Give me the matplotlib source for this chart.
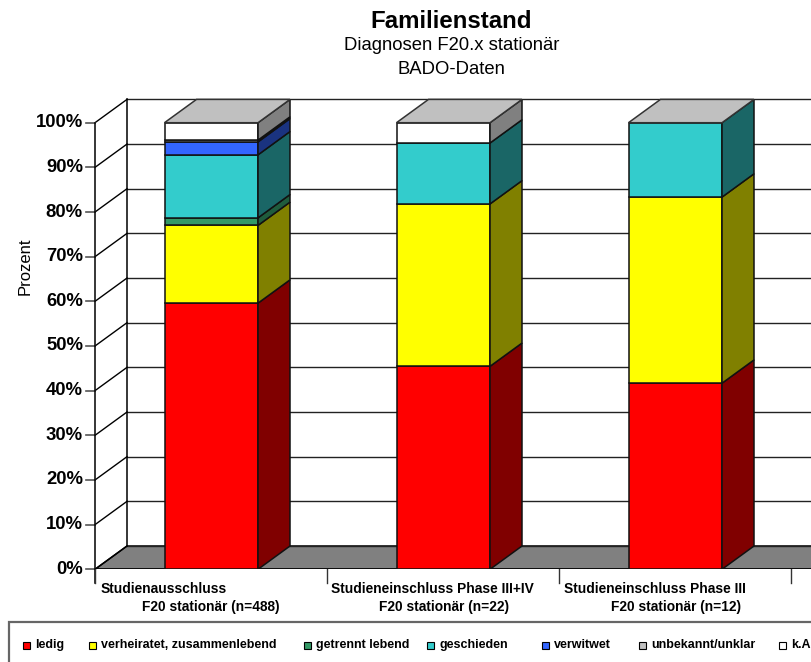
import numpy as np
import matplotlib
matplotlib.use("Agg")
import matplotlib.pyplot as plt
from matplotlib.patches import Polygon, Rectangle

plt.rcParams['font.family'] = ['Liberation Sans', 'DejaVu Sans']

W, H = 811, 662

groups = ['Studienausschluss', 'Studieneinschluss Phase III+IV', 'Studieneinschluss Phase III']
groups2 = ['F20 stationär (n=488)', 'F20 stationär (n=22)', 'F20 stationär (n=12)']
series = ['ledig', 'verheiratet, zusammenlebend', 'getrennt lebend', 'geschieden',
          'verwitwet', 'unbekannt/unklar', 'k.A.']
ledig = [59.6, 45.45, 41.67]
verheiratet = [17.4, 36.36, 41.67]
getrennt = [1.7, 0, 0]
geschieden = [14.1, 13.64, 16.66]
verwitwet = [2.9, 0, 0]
unbekannt = [0.4, 0, 0]
ka = [3.9, 4.55, 0]
values = np.array([ledig, verheiratet, getrennt, geschieden, verwitwet, unbekannt, ka])

front = ['#FF0000', '#FFFF00', '#339966', '#33CCCC', '#3366FF', '#C0C0C0', '#FFFFFF']
side = ['#800000', '#808000', '#1F5C3D', '#1A6666', '#1A3380', '#808080', '#808080']
top = '#C0C0C0'
legend_x = [23, 89, 304, 427, 542, 639, 779]
label1_x = [101, 331, 564]
label2_x = [142, 379, 611]

fig = plt.figure(figsize=(W / 100, H / 100), dpi=100)
# axes runs from the 0% front corner up to the top of the back wall
ax = fig.add_axes([95 / W, 1 - 569.3 / H, (W - 95) / W, (569.3 - 99.5) / H])
per_cat = 232.0
per_pct = 4.466
dx = 32 / per_cat
dy = 23.3 / per_pct
ax.set_xlim(0, (W - 95) / per_cat)
ax.set_ylim(0, 469.8 / per_pct)
ax.axis('off')

LW = 1.1
# floor
ax.add_patch(Polygon([(0, 0), (dx, dy), (4, dy), (4 - dx, 0)], fc='#808080', ec='black', lw=LW, zorder=1))

# back wall and left wall grid
for p in range(0, 101, 10):
    ax.plot([dx, 4], [p + dy, p + dy], color='#222222', lw=1.0, zorder=1.5, clip_on=False)
    ax.plot([0, dx], [p, p + dy], color='black', lw=1.0, zorder=1.5, clip_on=False)
    ax.plot([-9 / per_cat, 0], [p, p], color='#555555', lw=1.2, clip_on=False, zorder=1.5)
    ax.text(-12 / per_cat, p, '%d%%' % p, ha='right', va='center', fontsize=13.3,
            fontweight='bold', clip_on=False)
ax.plot([0, 0], [-3, 100], color='black', lw=LW, clip_on=False, zorder=1.5)
ax.plot([dx, dx], [dy, 100 + dy], color='black', lw=LW, zorder=1.5, clip_on=False)
for c in range(0, 4):
    ax.plot([c, c], [-3, 0], color='#333333', lw=1, clip_on=False, zorder=1.5)
ax.plot([0, 4], [0, 0], color='black', lw=LW, zorder=1.5)

# stacked 3d columns
bar_w = 93.5 / per_cat
for g in range(3):
    x0 = g + 69.5 / per_cat
    x1 = x0 + bar_w
    bottom = 0
    for s in range(len(series)):
        v = values[s, g]
        if v == 0:
            continue
        ax.add_patch(Polygon([(x0, bottom), (x1, bottom), (x1, bottom + v), (x0, bottom + v)],
                             fc=front[s], ec='#111111', lw=LW, zorder=3, joinstyle='miter'))
        ax.add_patch(Polygon([(x1, bottom), (x1 + dx, bottom + dy), (x1 + dx, bottom + v + dy), (x1, bottom + v)],
                             fc=side[s], ec='#111111', lw=LW, zorder=3, joinstyle='miter'))
        bottom += v
    ax.add_patch(Polygon([(x0, bottom), (x1, bottom), (x1 + dx, bottom + dy), (x0 + dx, bottom + dy)],
                         fc=top, ec='#333333', lw=LW, zorder=3, clip_on=False))

# category labels, two lines each
for g in range(3):
    fig.text(label1_x[g] / W, 1 - 589 / H, groups[g], fontsize=9.9, fontweight='bold', ha='left', va='center')
    fig.text(label2_x[g] / W, 1 - 606.5 / H, groups2[g], fontsize=9.9, fontweight='bold', ha='left', va='center')

fig.text(25 / W, 1 - 266 / H, 'Prozent', rotation=90, ha='center', va='center', fontsize=12)

fig.text(451.5 / W, 1 - 21 / H, 'Familienstand', fontsize=17.3, fontweight='bold', ha='center', va='center')
fig.text(451.5 / W, 1 - 46 / H, 'Diagnosen F20.x stationär', fontsize=13.3, ha='center', va='center')
fig.text(451.5 / W, 1 - 69 / H, 'BADO-Daten', fontsize=13.3, ha='center', va='center')

# legend strip runs off the right and bottom edges
fig.add_artist(Rectangle((9 / W, 1 - 680 / H), 830 / W, 58 / H, transform=fig.transFigure,
                         fc='white', ec='#666666', lw=1.6))
for name, c, lx in zip(series, front, legend_x):
    fig.add_artist(Rectangle((lx / W, 1 - 648.5 / H), 7 / W, 7 / H, transform=fig.transFigure,
                             fc=c, ec='black', lw=0.8))
    fig.text((lx + 12) / W, 1 - 645 / H, name, fontsize=9, fontweight='bold', ha='left', va='center')

fig.savefig('out.png', dpi=100)
